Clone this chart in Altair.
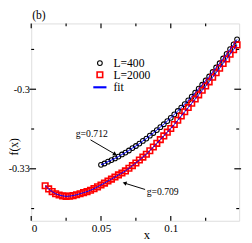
import altair as alt
import pandas as pd

# ---- data ----
x_l400 = [0.0500, 0.0525, 0.0550, 0.0575, 0.0600, 0.0625, 0.0650, 0.0675, 0.0700, 0.0725,
          0.0750, 0.0775, 0.0800, 0.0825, 0.0850, 0.0875, 0.0900, 0.0925, 0.0950, 0.0975,
          0.1000, 0.1025, 0.1050, 0.1075, 0.1100, 0.1125, 0.1150, 0.1175, 0.1200, 0.1225,
          0.1250, 0.1275, 0.1300, 0.1325, 0.1350, 0.1375, 0.1400, 0.1425, 0.1450, 0.1475]
y_l400 = [-0.3285, -0.3280, -0.3273, -0.3267, -0.3261, -0.3254, -0.3246, -0.3239, -0.3231, -0.3222,
          -0.3214, -0.3205, -0.3195, -0.3186, -0.3175, -0.3165, -0.3154, -0.3143, -0.3132, -0.3120,
          -0.3108, -0.3095, -0.3082, -0.3069, -0.3056, -0.3042, -0.3028, -0.3013, -0.2998, -0.2983,
          -0.2967, -0.2952, -0.2935, -0.2918, -0.2902, -0.2884, -0.2867, -0.2849, -0.2831, -0.2812]

x_l2000 = [0.0100, 0.0125, 0.0150, 0.0175, 0.0200, 0.0225, 0.0250, 0.0275, 0.0300, 0.0325,
           0.0350, 0.0375, 0.0400, 0.0425, 0.0450, 0.0475, 0.0500, 0.0525, 0.0550, 0.0575,
           0.0600, 0.0625, 0.0650, 0.0675, 0.0700, 0.0725, 0.0750, 0.0775, 0.0800, 0.0825,
           0.0850, 0.0875, 0.0900, 0.0925, 0.0950, 0.0975, 0.1000, 0.1025, 0.1050, 0.1075,
           0.1100, 0.1125, 0.1150, 0.1175, 0.1200, 0.1225, 0.1250, 0.1275, 0.1300, 0.1325,
           0.1350, 0.1375, 0.1400, 0.1425, 0.1450, 0.1475]
y_l2000 = [-0.3364, -0.3376, -0.3386, -0.3394, -0.3399, -0.3402, -0.3404, -0.3403, -0.3401, -0.3398,
           -0.3394, -0.3390, -0.3386, -0.3381, -0.3375, -0.3368, -0.3361, -0.3354, -0.3346, -0.3339,
           -0.3331, -0.3323, -0.3316, -0.3308, -0.3298, -0.3288, -0.3278, -0.3267, -0.3256, -0.3245,
           -0.3232, -0.3218, -0.3204, -0.3190, -0.3176, -0.3162, -0.3148, -0.3133, -0.3117, -0.3101,
           -0.3085, -0.3069, -0.3053, -0.3037, -0.3021, -0.3004, -0.2988, -0.2972, -0.2955, -0.2938,
           -0.2921, -0.2903, -0.2886, -0.2868, -0.2851, -0.2833]

series_names = ["L=400", "L=2000", "fit"]

x_ticks_major = [0, 0.05, 0.1]
x_ticks_minor = [0.025, 0.075, 0.125]
y_ticks_major = [-0.33, -0.3]
y_ticks_minor = [-0.345, -0.315, -0.285]

note_text = ["g=0.712", "g=0.709"]
note_x = [0.0434, 0.0942]
note_y = [-0.3169, -0.3389]
arrow_x = [0.0425, 0.0816]
arrow_y = [-0.3191, -0.3378]
arrow_x2 = [0.0601, 0.0669]
arrow_y2 = [-0.3245, -0.3354]
head_angle = [30, 197]

# ---- chart ----
W, H = 215, 204
FONT = "Liberation Serif"

pts = pd.DataFrame({
    "x": x_l400 + x_l2000,
    "y": y_l400 + y_l2000,
    "series": ["L=400"] * len(x_l400) + ["L=2000"] * len(x_l2000),
})

xs = alt.Scale(domain=[0, 0.149], nice=False, zero=False)
ys = alt.Scale(domain=[-0.3496, -0.2752], nice=False, zero=False)

x_axis = alt.Axis(values=x_ticks_major, labelExpr="toString(datum.value)", ticks=False, tickSize=0,
                  domain=False, grid=False, labelFont=FONT, labelFontSize=11.5, labelPadding=2,
                  labelColor="black", title="x", titleFont=FONT, titleFontSize=13,
                  titleFontWeight="normal", titleColor="black", titleX=119, titleY=14,
                  titleBaseline="middle", titleAlign="center")
y_axis = alt.Axis(values=y_ticks_major, labelExpr="toString(datum.value)", ticks=False, tickSize=0,
                  domain=False, grid=False, labelFont=FONT, labelFontSize=10.5, labelPadding=2,
                  labelColor="black", title="f(x)", titleFont=FONT, titleFontSize=12,
                  titleFontWeight="normal", titleColor="black", titleX=-18, titleY=127,
                  titleAngle=270, titleBaseline="middle", titleAlign="center")

leg = alt.Legend(orient="none", legendX=65, legendY=35, title=None, labelFont=FONT,
                 labelFontSize=12, labelColor="black", symbolStrokeWidth=1.2, symbolSize=26,
                 rowPadding=-1, labelOffset=8, padding=0)

points = alt.Chart(pts).mark_point(filled=False, opacity=1).encode(
    x=alt.X("x:Q", scale=xs, axis=x_axis),
    y=alt.Y("y:Q", scale=ys, axis=y_axis),
    color=alt.Color("series:N", scale=alt.Scale(domain=series_names, range=["black", "red", "blue"]), legend=leg),
    shape=alt.Shape("series:N", scale=alt.Scale(domain=series_names,
                                                range=["circle", "square", "M-2.1,0L2.1,0"]), legend=leg),
    size=alt.Size("series:N", scale=alt.Scale(domain=series_names, range=[24, 42, 26]), legend=None),
    strokeWidth=alt.StrokeWidth("series:N", scale=alt.Scale(domain=series_names, range=[1.1, 2.2, 1.2]), legend=None),
)

lines = alt.Chart(pts).mark_line(color="blue", strokeWidth=1).encode(
    x=alt.X("x:Q", scale=xs, axis=x_axis),
    y=alt.Y("y:Q", scale=ys, axis=y_axis),
    detail="series:N",
)


def ticks_x(vals, inner, outer):
    d = pd.DataFrame({"x": vals})
    b = alt.Chart(d).mark_rule(color="black", strokeWidth=1.2).encode(
        x=alt.X("x:Q", scale=xs, axis=x_axis), y=alt.value(H + outer), y2=alt.value(H - inner))
    t = alt.Chart(d).mark_rule(color="black", strokeWidth=1.2).encode(
        x=alt.X("x:Q", scale=xs, axis=x_axis), y=alt.value(-outer), y2=alt.value(inner))
    return [b, t]


def ticks_y(vals, inner, outer):
    d = pd.DataFrame({"y": vals})
    l = alt.Chart(d).mark_rule(color="black", strokeWidth=1.2).encode(
        y=alt.Y("y:Q", scale=ys, axis=y_axis), x=alt.value(-outer), x2=alt.value(inner))
    r = alt.Chart(d).mark_rule(color="black", strokeWidth=1.2).encode(
        y=alt.Y("y:Q", scale=ys, axis=y_axis), x=alt.value(W + outer), x2=alt.value(W - inner))
    return [l, r]


tick_layers = (ticks_x(x_ticks_major, 5, 0) + ticks_x(x_ticks_minor, 3, 0)
               + ticks_y(y_ticks_major, 5, 2) + ticks_y(y_ticks_minor, 3, 0))

notes = pd.DataFrame({"x": note_x, "y": note_y, "t": note_text})
note_layer = alt.Chart(notes).mark_text(font=FONT, fontSize=10, align="center", baseline="middle",
                                        color="black").encode(
    x=alt.X("x:Q", scale=xs, axis=x_axis), y=alt.Y("y:Q", scale=ys, axis=y_axis), text="t:N")

arrows = pd.DataFrame({"x": arrow_x, "y": arrow_y, "x2": arrow_x2, "y2": arrow_y2})
arrow_layer = alt.Chart(arrows).mark_rule(color="black", strokeWidth=1).encode(
    x=alt.X("x:Q", scale=xs, axis=x_axis), y=alt.Y("y:Q", scale=ys, axis=y_axis), x2="x2:Q", y2="y2:Q")

head_layers = []
for i in range(len(arrow_x2)):
    hd = pd.DataFrame({"x": [arrow_x2[i]], "y": [arrow_y2[i]]})
    head_layers.append(alt.Chart(hd).mark_point(shape="triangle-right", filled=True, size=22,
                                                 color="black", opacity=1, angle=head_angle[i]).encode(
        x=alt.X("x:Q", scale=xs, axis=x_axis), y=alt.Y("y:Q", scale=ys, axis=y_axis)))

chart = alt.layer(points, lines, *tick_layers, note_layer, arrow_layer, *head_layers).properties(
    width=W, height=H,
    title=alt.TitleParams("(b)", anchor="start", frame="group", font=FONT, fontSize=12,
                          fontWeight="normal", color="black", offset=1, dx=1, dy=9,
                          baseline="alphabetic"),
    autosize=alt.AutoSizeParams(type="none"),
    padding={"left": 24, "top": 12, "right": 5, "bottom": 19},
).configure_view(stroke="black", strokeWidth=1.5).configure(font=FONT)

chart.save("out.html", embed_options={"renderer": "svg", "actions": False})
